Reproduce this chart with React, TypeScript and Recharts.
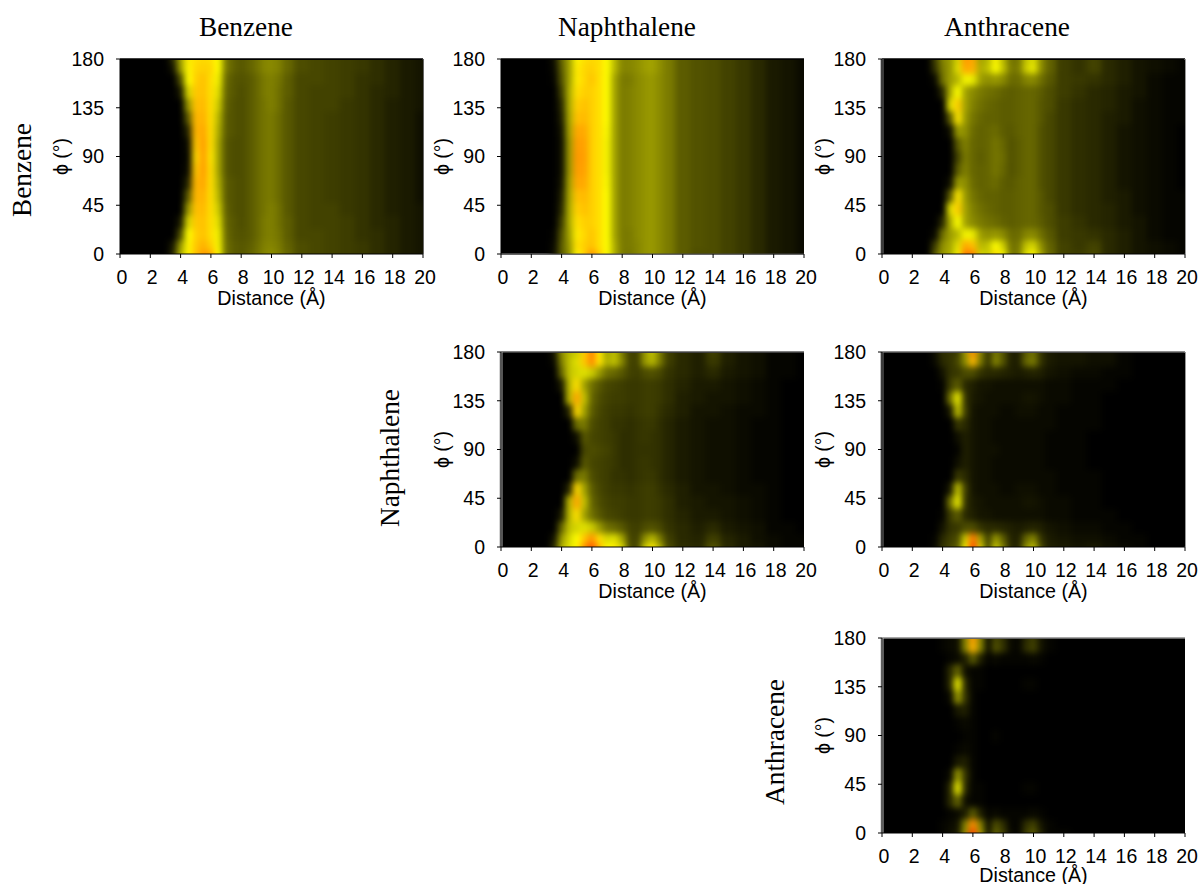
import { CartesianGrid, ReferenceLine, Scatter, ScatterChart, XAxis, YAxis } from "recharts";

// heat values: 0 = black, 50 = yellow, 100 = red-orange
const DISTANCES = [3.5, 4, 4.5, 5, 5.5, 6, 6.5, 7, 7.5, 8, 8.5, 9, 9.5, 10, 10.5, 11, 12, 13, 14, 15, 16, 17, 18, 19, 20];
const PHIS = [0, 8, 18, 30, 42, 54, 66, 78, 90, 102, 114, 126, 138, 150, 162, 172, 180];
const X_TICKS = [0, 2, 4, 6, 8, 10, 12, 14, 16, 18, 20];
const Y_TICKS = [0, 45, 90, 135, 180];

const BB_0 = [8, 35, 52, 66, 76, 72, 50, 22, 18, 17, 19, 22, 26, 28, 25, 20, 15, 14, 13, 12, 11, 9, 7, 5, 4];
const BB_8 = [5, 30, 52, 64, 70, 62, 48, 22, 18, 17, 18, 21, 25, 26, 24, 19, 15, 14, 13, 12, 11, 9, 7, 5, 4];
const BB_18 = [0, 15, 50, 62, 66, 58, 47, 21, 17, 16, 17, 20, 24, 25, 23, 18, 14, 14, 13, 12, 10, 9, 7, 5, 4];
const BB_30 = [0, 5, 42, 64, 66, 58, 44, 20, 17, 15, 17, 20, 24, 25, 22, 18, 14, 13, 13, 12, 10, 8, 7, 5, 4];
const BB_42 = [0, 0, 30, 66, 68, 58, 40, 19, 16, 15, 17, 20, 23, 25, 22, 17, 14, 13, 13, 11, 10, 8, 6, 5, 4];
const BB_54 = [0, 0, 18, 68, 70, 58, 36, 18, 16, 15, 17, 20, 23, 24, 21, 17, 14, 13, 12, 11, 10, 8, 6, 5, 3];
const BB_66 = [0, 0, 8, 68, 73, 58, 34, 18, 16, 15, 17, 20, 23, 24, 21, 17, 14, 13, 12, 11, 10, 8, 6, 5, 3];
const BB_78 = [0, 0, 3, 64, 75, 58, 32, 17, 15, 15, 17, 20, 23, 24, 21, 17, 14, 13, 12, 11, 10, 8, 6, 5, 3];
const BB_90 = [0, 0, 2, 60, 75, 56, 32, 17, 15, 15, 17, 20, 23, 24, 21, 17, 14, 13, 12, 11, 10, 8, 6, 5, 3];
const BB_172 = [4, 30, 52, 60, 62, 60, 50, 24, 19, 17, 19, 22, 26, 27, 25, 20, 15, 14, 13, 12, 11, 9, 7, 5, 4];
const BB_180 = [8, 32, 54, 58, 60, 58, 50, 24, 19, 17, 19, 22, 26, 27, 25, 20, 15, 14, 13, 12, 11, 9, 7, 5, 4];

const BN_0 = [3, 18, 28, 52, 62, 78, 62, 50, 34, 24, 23, 26, 29, 30, 27, 24, 18, 15, 15, 13, 11, 8, 5, 4, 2];
const BN_8 = [2, 18, 30, 58, 62, 66, 58, 50, 34, 24, 24, 26, 29, 30, 27, 24, 18, 16, 15, 13, 11, 8, 5, 4, 2];
const BN_18 = [1, 16, 32, 55, 60, 65, 58, 50, 32, 24, 24, 27, 29, 30, 27, 24, 18, 16, 15, 13, 11, 8, 5, 4, 2];
const BN_30 = [0, 12, 34, 58, 62, 62, 58, 50, 32, 24, 25, 27, 29, 30, 27, 24, 18, 16, 15, 13, 11, 8, 5, 4, 2];
const BN_42 = [0, 8, 34, 62, 66, 62, 58, 50, 32, 24, 25, 27, 29, 30, 27, 24, 18, 16, 15, 13, 11, 8, 5, 4, 2];
const BN_54 = [0, 6, 33, 66, 68, 62, 58, 50, 32, 24, 25, 27, 29, 30, 27, 24, 18, 16, 15, 13, 11, 8, 5, 4, 2];
const BN_66 = [0, 4, 32, 72, 72, 62, 58, 49, 32, 24, 25, 27, 29, 30, 27, 24, 18, 16, 15, 13, 11, 8, 5, 4, 2];
const BN_78 = [0, 3, 30, 75, 74, 62, 58, 48, 32, 24, 25, 27, 29, 30, 27, 24, 18, 16, 15, 13, 11, 8, 5, 4, 2];
const BN_90 = [0, 3, 30, 76, 75, 62, 58, 48, 32, 24, 25, 27, 29, 30, 27, 24, 18, 16, 15, 13, 11, 8, 5, 4, 2];
const BN_172 = [2, 18, 32, 55, 60, 62, 58, 50, 36, 26, 26, 28, 31, 32, 28, 24, 18, 16, 15, 13, 11, 8, 5, 4, 2];
const BN_180 = [3, 20, 32, 52, 58, 60, 58, 50, 36, 26, 26, 28, 31, 32, 28, 24, 18, 16, 15, 13, 11, 8, 5, 4, 2];

const BA_0 = [18, 30, 34, 48, 85, 82, 42, 40, 58, 48, 24, 24, 44, 52, 32, 20, 13, 12, 14, 8, 6, 4, 3, 2, 1];
const BA_8 = [12, 28, 33, 44, 72, 66, 36, 38, 50, 40, 23, 23, 38, 42, 28, 19, 13, 11, 13, 8, 6, 4, 3, 2, 1];
const BA_18 = [2, 22, 31, 36, 48, 46, 31, 28, 30, 27, 21, 21, 26, 27, 22, 17, 12, 11, 10, 8, 6, 4, 2, 1, 1];
const BA_30 = [0, 8, 34, 50, 32, 27, 24, 22, 21, 19, 18, 19, 20, 20, 18, 15, 12, 10, 8, 7, 5, 4, 2, 1, 1];
const BA_42 = [0, 0, 44, 62, 32, 25, 22, 20, 19, 18, 18, 19, 20, 20, 17, 15, 11, 9, 8, 7, 5, 3, 2, 1, 1];
const BA_54 = [0, 0, 18, 56, 30, 23, 20, 19, 19, 18, 18, 19, 20, 20, 17, 14, 11, 9, 8, 6, 5, 3, 2, 1, 1];
const BA_66 = [0, 0, 3, 30, 28, 21, 19, 20, 21, 18, 17, 19, 20, 20, 16, 14, 11, 9, 8, 6, 4, 3, 2, 1, 0];
const BA_78 = [0, 0, 0, 18, 25, 20, 19, 20, 23, 20, 16, 18, 20, 20, 16, 14, 11, 9, 8, 6, 4, 3, 2, 1, 0];
const BA_90 = [0, 0, 0, 13, 24, 20, 18, 20, 23, 21, 16, 18, 20, 20, 16, 14, 11, 9, 8, 6, 4, 3, 2, 1, 0];
const BA_172 = [10, 24, 30, 44, 72, 70, 34, 38, 50, 38, 24, 24, 40, 46, 28, 19, 12, 10, 13, 8, 6, 4, 3, 2, 1];
const BA_180 = [12, 26, 30, 42, 76, 72, 32, 36, 52, 36, 23, 23, 38, 44, 28, 19, 12, 10, 13, 8, 6, 4, 3, 2, 1];

const NN_0 = [8, 35, 44, 52, 78, 95, 68, 50, 55, 42, 15, 14, 40, 55, 34, 14, 9, 8, 16, 8, 5, 4, 2, 1, 1];
const NN_8 = [4, 30, 42, 50, 65, 78, 58, 42, 44, 32, 14, 13, 28, 36, 24, 12, 8, 7, 12, 7, 5, 3, 2, 1, 1];
const NN_18 = [0, 20, 38, 42, 44, 40, 30, 22, 20, 17, 13, 12, 15, 16, 14, 10, 8, 6, 8, 5, 4, 3, 1, 1, 0];
const NN_30 = [0, 5, 36, 58, 32, 22, 17, 14, 13, 12, 11, 11, 12, 12, 11, 9, 7, 5, 5, 4, 3, 2, 1, 0, 0];
const NN_42 = [0, 0, 36, 72, 38, 20, 15, 13, 12, 12, 11, 11, 12, 12, 11, 9, 6, 5, 4, 4, 3, 2, 1, 0, 0];
const NN_54 = [0, 0, 8, 60, 32, 18, 14, 12, 11, 11, 10, 11, 12, 12, 10, 8, 6, 4, 4, 3, 2, 2, 1, 0, 0];
const NN_66 = [0, 0, 0, 22, 24, 15, 13, 12, 10, 10, 9, 10, 11, 11, 9, 7, 5, 4, 3, 3, 2, 1, 1, 0, 0];
const NN_78 = [0, 0, 0, 3, 17, 14, 13, 12, 11, 9, 9, 10, 11, 10, 9, 7, 5, 4, 3, 3, 2, 1, 1, 0, 0];
const NN_90 = [0, 0, 0, 0, 14, 15, 14, 13, 11, 9, 9, 10, 10, 10, 9, 7, 5, 4, 3, 3, 2, 1, 1, 0, 0];
const NN_172 = [2, 25, 38, 44, 64, 80, 56, 34, 38, 26, 13, 13, 30, 36, 24, 12, 8, 6, 11, 6, 4, 3, 1, 1, 0];
const NN_180 = [4, 28, 36, 40, 62, 82, 54, 32, 38, 24, 13, 13, 30, 38, 24, 12, 8, 6, 12, 6, 4, 3, 1, 1, 0];

const NA_0 = [2, 10, 14, 18, 48, 100, 42, 14, 40, 24, 8, 7, 28, 38, 14, 6, 5, 4, 5, 3, 2, 1, 0, 0, 0];
const NA_8 = [1, 8, 12, 15, 40, 85, 32, 12, 30, 18, 7, 6, 20, 26, 10, 5, 4, 3, 3, 2, 1, 1, 0, 0, 0];
const NA_18 = [0, 4, 10, 11, 15, 15, 10, 8, 8, 7, 6, 5, 6, 7, 6, 4, 3, 2, 2, 1, 1, 0, 0, 0, 0];
const NA_30 = [0, 1, 12, 18, 8, 6, 4, 4, 3, 3, 3, 3, 3, 3, 3, 2, 2, 1, 1, 1, 0, 0, 0, 0, 0];
const NA_42 = [0, 0, 22, 46, 10, 5, 4, 3, 3, 3, 3, 3, 4, 4, 3, 2, 2, 1, 1, 0, 0, 0, 0, 0, 0];
const NA_54 = [0, 0, 5, 38, 12, 4, 3, 3, 3, 2, 2, 3, 3, 3, 2, 2, 1, 1, 1, 0, 0, 0, 0, 0, 0];
const NA_66 = [0, 0, 0, 11, 8, 4, 3, 3, 2, 2, 2, 2, 2, 2, 2, 2, 1, 1, 1, 0, 0, 0, 0, 0, 0];
const NA_78 = [0, 0, 0, 3, 6, 4, 3, 3, 2, 2, 2, 2, 2, 2, 2, 1, 1, 1, 0, 0, 0, 0, 0, 0, 0];
const NA_90 = [0, 0, 0, 1, 6, 4, 3, 3, 3, 2, 2, 2, 2, 2, 2, 1, 1, 1, 0, 0, 0, 0, 0, 0, 0];
const NA_172 = [2, 8, 10, 14, 28, 68, 24, 10, 26, 16, 6, 6, 20, 24, 10, 5, 4, 4, 3, 3, 1, 0, 0, 0, 0];
const NA_180 = [3, 9, 10, 12, 30, 78, 26, 10, 24, 16, 6, 6, 18, 22, 10, 5, 4, 4, 3, 3, 1, 0, 0, 0, 0];

const AA_0 = [0, 1, 3, 5, 30, 100, 32, 4, 20, 12, 2, 1, 12, 18, 6, 1, 1, 0, 0, 0, 0, 0, 0, 0, 0];
const AA_8 = [0, 1, 2, 4, 26, 80, 26, 3, 15, 9, 1, 1, 9, 13, 4, 1, 0, 0, 0, 0, 0, 0, 0, 0, 0];
const AA_18 = [0, 0, 1, 2, 6, 18, 6, 1, 2, 1, 1, 1, 1, 2, 1, 0, 0, 0, 0, 0, 0, 0, 0, 0, 0];
const AA_30 = [0, 0, 8, 20, 3, 1, 1, 0, 0, 0, 0, 0, 0, 0, 0, 0, 0, 0, 0, 0, 0, 0, 0, 0, 0];
const AA_42 = [0, 0, 8, 46, 8, 1, 1, 0, 0, 0, 0, 0, 1, 1, 0, 0, 0, 0, 0, 0, 0, 0, 0, 0, 0];
const AA_54 = [0, 0, 2, 30, 10, 1, 0, 0, 0, 0, 0, 0, 0, 0, 0, 0, 0, 0, 0, 0, 0, 0, 0, 0, 0];
const AA_66 = [0, 0, 0, 5, 6, 1, 0, 0, 0, 0, 0, 0, 0, 0, 0, 0, 0, 0, 0, 0, 0, 0, 0, 0, 0];
const AA_78 = [0, 0, 0, 1, 2, 1, 0, 0, 0, 0, 0, 0, 0, 0, 0, 0, 0, 0, 0, 0, 0, 0, 0, 0, 0];
const AA_90 = [0, 0, 0, 0, 1, 1, 0, 0, 1, 0, 0, 0, 0, 0, 0, 0, 0, 0, 0, 0, 0, 0, 0, 0, 0];
const AA_172 = [0, 1, 2, 3, 26, 70, 26, 3, 16, 10, 2, 1, 9, 13, 4, 1, 0, 0, 0, 0, 0, 0, 0, 0, 0];
const AA_180 = [0, 1, 2, 3, 26, 75, 26, 3, 14, 9, 2, 1, 8, 12, 4, 1, 0, 0, 0, 0, 0, 0, 0, 0, 0];

// rows follow PHIS, the picture is close to mirrored around 90 degrees
const BENZENE_BENZENE = [BB_0, BB_8, BB_18, BB_30, BB_42, BB_54, BB_66, BB_78, BB_90, BB_78, BB_66, BB_54, BB_42, BB_30, BB_18, BB_172, BB_180];
const BENZENE_NAPHTHALENE = [BN_0, BN_8, BN_18, BN_30, BN_42, BN_54, BN_66, BN_78, BN_90, BN_78, BN_66, BN_54, BN_42, BN_30, BN_18, BN_172, BN_180];
const BENZENE_ANTHRACENE = [BA_0, BA_8, BA_18, BA_30, BA_42, BA_54, BA_66, BA_78, BA_90, BA_78, BA_66, BA_54, BA_42, BA_30, BA_18, BA_172, BA_180];
const NAPHTHALENE_NAPHTHALENE = [NN_0, NN_8, NN_18, NN_30, NN_42, NN_54, NN_66, NN_78, NN_90, NN_78, NN_66, NN_54, NN_42, NN_30, NN_18, NN_172, NN_180];
const NAPHTHALENE_ANTHRACENE = [NA_0, NA_8, NA_18, NA_30, NA_42, NA_54, NA_66, NA_78, NA_90, NA_78, NA_66, NA_54, NA_42, NA_30, NA_18, NA_172, NA_180];
const ANTHRACENE_ANTHRACENE = [AA_0, AA_8, AA_18, AA_30, AA_42, AA_54, AA_66, AA_78, AA_90, AA_78, AA_66, AA_54, AA_42, AA_30, AA_18, AA_172, AA_180];

const PLOT_W = 303;
const PLOT_H = 195;
const MARGIN = { top: 10, right: 30, bottom: 30, left: 0 };
// the phi label sits in the middle of this box
const Y_AXIS_W = 118;
const X_AXIS_H = 30;
const SANS = "'Liberation Sans', Arial, sans-serif";
const SERIF = "'Liberation Serif', 'Times New Roman', serif";

const heatColor = (v: number) => {
    if (v <= 50) {
        const c = Math.round((v / 50) * 255);
        return `rgb(${c},${c},0)`;
    }
    return `rgb(255,${Math.round(255 - ((v - 50) / 50) * 195)},0)`;
};

// cell edges in data units, outer cells run past the plot so the blur stays solid at the border
const buildCells = (grid: number[][]) =>
    grid.flatMap((row, r) =>
        row.map((v, c) => ({
            x: DISTANCES[c],
            y: PHIS[r],
            v,
            x0: c === 0 ? 3.25 : (DISTANCES[c - 1] + DISTANCES[c]) / 2,
            x1: c === row.length - 1 ? 24 : (DISTANCES[c] + DISTANCES[c + 1]) / 2,
            y0: r === 0 ? -30 : (PHIS[r - 1] + PHIS[r]) / 2,
            y1: r === grid.length - 1 ? 210 : (PHIS[r] + PHIS[r + 1]) / 2,
        }))
    );

const HeatCell = (props: any) => {
    const { cx, cy } = props;
    const d = props.payload ?? props;
    const kx = PLOT_W / 20;
    const ky = PLOT_H / 180;
    const left = cx - (d.x - d.x0) * kx;
    const right = cx + (d.x1 - d.x) * kx;
    const top = cy - (d.y1 - d.y) * ky;
    const bottom = cy + (d.y - d.y0) * ky;
    return <rect x={left} y={top} width={right - left + 0.6} height={bottom - top + 0.6} fill={heatColor(d.v)} />;
};

type PanelProps = {
    grid: number[][];
    plotX: number;
    plotY: number;
    labelOffset?: number;
    topLine?: string;
    bottomLine?: string;
    leftLine?: string;
    rightLine?: string;
};

function Panel({ grid, plotX, plotY, labelOffset = 7, topLine, bottomLine, leftLine, rightLine }: PanelProps) {
    const tick = { fontSize: 19.5, fill: "#000", fontFamily: SANS };
    return (
        <div style={{ position: "absolute", left: plotX - MARGIN.left - Y_AXIS_W, top: plotY - MARGIN.top }}>
            <ScatterChart
                width={MARGIN.left + Y_AXIS_W + PLOT_W + MARGIN.right}
                height={MARGIN.top + PLOT_H + X_AXIS_H + MARGIN.bottom}
                margin={MARGIN}
            >
                <CartesianGrid horizontal={false} vertical={false} fill="#000" />
                <XAxis
                    type="number"
                    dataKey="x"
                    domain={[0, 20]}
                    ticks={X_TICKS}
                    interval={0}
                    height={X_AXIS_H}
                    stroke="#000"
                    tickSize={4}
                    tickMargin={12}
                    tick={{ ...tick, dx: 2 }}
                    label={{ value: "Distance (Å)", position: "bottom", offset: labelOffset, fontSize: 19.7, fill: "#000", fontFamily: SANS }}
                />
                <YAxis
                    type="number"
                    dataKey="y"
                    domain={[0, 180]}
                    ticks={Y_TICKS}
                    interval={0}
                    width={Y_AXIS_W}
                    stroke="#000"
                    tickSize={4}
                    tickMargin={12}
                    tick={tick}
                    label={{ value: "ϕ (°)", angle: -90, position: "center", fontSize: 19.5, fill: "#000", fontFamily: SANS }}
                />
                <Scatter data={buildCells(grid)} shape={HeatCell} isAnimationActive={false} className="heat-cells" />
                {topLine && <ReferenceLine y={180} stroke={topLine} strokeWidth={1.5} />}
                {bottomLine && <ReferenceLine y={0} stroke={bottomLine} strokeWidth={1.5} />}
                {leftLine && <ReferenceLine x={0} stroke={leftLine} strokeWidth={3} />}
                {rightLine && <ReferenceLine x={20} stroke={rightLine} strokeWidth={1.5} />}
            </ScatterChart>
        </div>
    );
}

const serifLabel = (text: string, x: number, y: number, rotated = false) => (
    <div
        style={{
            position: "absolute",
            left: x,
            top: y,
            transform: `translate(-50%, -50%)${rotated ? " rotate(-90deg)" : ""}`,
            fontFamily: SERIF,
            fontSize: 27.3,
            color: "#000",
            whiteSpace: "nowrap",
        }}
    >
        {text}
    </div>
);

export default function App() {
    return (
        <div style={{ position: "absolute", left: 0, top: 0, width: 1198, height: 884, overflow: "hidden", background: "#fff" }}>
            <style>{`.heat-cells { filter: blur(3px); clip-path: url(#plot-clip); }`}</style>
            <svg width={0} height={0} style={{ position: "absolute" }}>
                <defs>
                    <clipPath id="plot-clip" clipPathUnits="userSpaceOnUse">
                        <rect x={MARGIN.left + Y_AXIS_W} y={MARGIN.top + 1} width={PLOT_W} height={PLOT_H - 1.5} />
                    </clipPath>
                </defs>
            </svg>

            {serifLabel("Benzene", 246, 27)}
            {serifLabel("Naphthalene", 627, 27)}
            {serifLabel("Anthracene", 1007, 27)}
            {serifLabel("Benzene", 22, 170, true)}
            {serifLabel("Naphthalene", 390, 458, true)}
            {serifLabel("Anthracene", 775, 742, true)}

            <Panel grid={BENZENE_BENZENE} plotX={119.5} plotY={59} topLine="#000" rightLine="#333" />
            <Panel grid={BENZENE_NAPHTHALENE} plotX={500.5} plotY={59} topLine="#000" bottomLine="#bbb" />
            <Panel grid={BENZENE_ANTHRACENE} plotX={881.5} plotY={59} topLine="#000" leftLine="#777" rightLine="#777" />
            <Panel grid={NAPHTHALENE_NAPHTHALENE} plotX={500.5} plotY={352} topLine="#555" leftLine="#aaa" />
            <Panel grid={NAPHTHALENE_ANTHRACENE} plotX={881.5} plotY={352} topLine="#666" leftLine="#777" rightLine="#777" />
            <Panel grid={ANTHRACENE_ANTHRACENE} plotX={881.5} plotY={637.5} labelOffset={5} topLine="#888" leftLine="#bbb" />
        </div>
    );
}
